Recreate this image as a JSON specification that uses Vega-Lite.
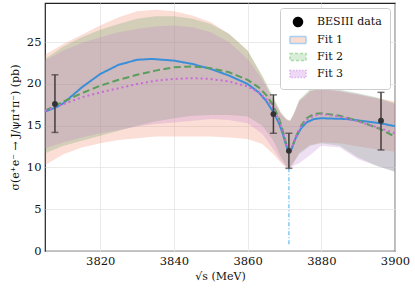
{
  "$schema": "https://vega.github.io/schema/vega-lite/v6.json",
  "width": 350,
  "height": 248,
  "autosize": {"type": "none"},
  "padding": {"left": 45, "top": 3, "right": 20, "bottom": 40},
  "config": {
    "font": "DejaVu Serif",
    "view": {"stroke": "#222222", "strokeWidth": 1.2},
    "axis": {
      "labelFont": "DejaVu Serif", "labelFontSize": 11.5, "labelColor": "#111111",
      "titleFont": "DejaVu Serif", "titleFontWeight": "normal", "titleColor": "#111111",
      "gridColor": "#e4e4e4", "gridWidth": 0.8, "domain": false,
      "ticks": false
    },
    "legend": {
      "orient": "top-right", "offset": 5, "padding": 8,
      "fillColor": "#ffffff", "strokeColor": "#cccccc", "cornerRadius": 3,
      "labelFont": "DejaVu Serif", "labelFontSize": 11, "labelColor": "#111111",
      "symbolSize": 100, "rowPadding": 3, "labelOffset": 17,
      "symbolStrokeWidth": 1.5, "symbolOpacity": 1
    }
  },
  "resolve": {"scale": {"fill": "independent", "stroke": "independent", "strokeDash": "independent", "shape": "independent"}},
  "datasets": {
    "curves": [
      {"fit": "Fit 1", "x": 3805, "y": 16.7}, {"fit": "Fit 1", "x": 3808, "y": 17.2}, {"fit": "Fit 1", "x": 3810, "y": 17.7},
      {"fit": "Fit 1", "x": 3815, "y": 19.6}, {"fit": "Fit 1", "x": 3820, "y": 21.2}, {"fit": "Fit 1", "x": 3825, "y": 22.3},
      {"fit": "Fit 1", "x": 3830, "y": 22.9}, {"fit": "Fit 1", "x": 3834, "y": 23.0}, {"fit": "Fit 1", "x": 3840, "y": 22.8},
      {"fit": "Fit 1", "x": 3845, "y": 22.4}, {"fit": "Fit 1", "x": 3850, "y": 21.8}, {"fit": "Fit 1", "x": 3855, "y": 21.0},
      {"fit": "Fit 1", "x": 3860, "y": 20.0}, {"fit": "Fit 1", "x": 3863, "y": 19.0}, {"fit": "Fit 1", "x": 3865, "y": 18.0},
      {"fit": "Fit 1", "x": 3867, "y": 16.6}, {"fit": "Fit 1", "x": 3868.5, "y": 15.3}, {"fit": "Fit 1", "x": 3869.5, "y": 14.1},
      {"fit": "Fit 1", "x": 3870.3, "y": 12.9}, {"fit": "Fit 1", "x": 3871, "y": 12.0}, {"fit": "Fit 1", "x": 3871.5, "y": 11.9},
      {"fit": "Fit 1", "x": 3872, "y": 12.3}, {"fit": "Fit 1", "x": 3873, "y": 13.5}, {"fit": "Fit 1", "x": 3874.5, "y": 14.7},
      {"fit": "Fit 1", "x": 3876, "y": 15.4}, {"fit": "Fit 1", "x": 3878, "y": 15.8}, {"fit": "Fit 1", "x": 3880, "y": 15.9},
      {"fit": "Fit 1", "x": 3887, "y": 15.8}, {"fit": "Fit 1", "x": 3896, "y": 15.3}, {"fit": "Fit 1", "x": 3900, "y": 14.95},
      {"fit": "Fit 2", "x": 3805, "y": 16.8}, {"fit": "Fit 2", "x": 3810, "y": 17.9}, {"fit": "Fit 2", "x": 3815, "y": 18.9},
      {"fit": "Fit 2", "x": 3820, "y": 19.8}, {"fit": "Fit 2", "x": 3825, "y": 20.5}, {"fit": "Fit 2", "x": 3830, "y": 21.1},
      {"fit": "Fit 2", "x": 3835, "y": 21.6}, {"fit": "Fit 2", "x": 3840, "y": 22.0}, {"fit": "Fit 2", "x": 3845, "y": 22.1},
      {"fit": "Fit 2", "x": 3850, "y": 21.9}, {"fit": "Fit 2", "x": 3855, "y": 21.4}, {"fit": "Fit 2", "x": 3860, "y": 20.5},
      {"fit": "Fit 2", "x": 3863, "y": 19.6}, {"fit": "Fit 2", "x": 3865, "y": 18.7}, {"fit": "Fit 2", "x": 3867, "y": 17.4},
      {"fit": "Fit 2", "x": 3868.5, "y": 15.9}, {"fit": "Fit 2", "x": 3869.5, "y": 14.5}, {"fit": "Fit 2", "x": 3870.3, "y": 13.1},
      {"fit": "Fit 2", "x": 3871, "y": 12.1}, {"fit": "Fit 2", "x": 3871.5, "y": 11.9}, {"fit": "Fit 2", "x": 3872, "y": 12.3},
      {"fit": "Fit 2", "x": 3873, "y": 13.6}, {"fit": "Fit 2", "x": 3874.5, "y": 15.0}, {"fit": "Fit 2", "x": 3876, "y": 15.9},
      {"fit": "Fit 2", "x": 3878, "y": 16.4}, {"fit": "Fit 2", "x": 3880, "y": 16.5}, {"fit": "Fit 2", "x": 3885, "y": 16.2},
      {"fit": "Fit 2", "x": 3890, "y": 15.6}, {"fit": "Fit 2", "x": 3896, "y": 14.6}, {"fit": "Fit 2", "x": 3900, "y": 13.7},
      {"fit": "Fit 3", "x": 3805, "y": 16.8}, {"fit": "Fit 3", "x": 3810, "y": 17.6}, {"fit": "Fit 3", "x": 3815, "y": 18.4},
      {"fit": "Fit 3", "x": 3820, "y": 19.0}, {"fit": "Fit 3", "x": 3825, "y": 19.5}, {"fit": "Fit 3", "x": 3830, "y": 20.0},
      {"fit": "Fit 3", "x": 3835, "y": 20.4}, {"fit": "Fit 3", "x": 3840, "y": 20.6}, {"fit": "Fit 3", "x": 3845, "y": 20.7},
      {"fit": "Fit 3", "x": 3850, "y": 20.6}, {"fit": "Fit 3", "x": 3855, "y": 20.3}, {"fit": "Fit 3", "x": 3860, "y": 19.7},
      {"fit": "Fit 3", "x": 3863, "y": 19.0}, {"fit": "Fit 3", "x": 3865, "y": 18.2}, {"fit": "Fit 3", "x": 3867, "y": 17.0},
      {"fit": "Fit 3", "x": 3868.5, "y": 15.7}, {"fit": "Fit 3", "x": 3869.5, "y": 14.4}, {"fit": "Fit 3", "x": 3870.3, "y": 13.0},
      {"fit": "Fit 3", "x": 3871, "y": 12.1}, {"fit": "Fit 3", "x": 3871.5, "y": 11.9}, {"fit": "Fit 3", "x": 3872, "y": 12.3},
      {"fit": "Fit 3", "x": 3873, "y": 13.5}, {"fit": "Fit 3", "x": 3874.5, "y": 14.9}, {"fit": "Fit 3", "x": 3876, "y": 15.7},
      {"fit": "Fit 3", "x": 3878, "y": 16.2}, {"fit": "Fit 3", "x": 3880, "y": 16.4}, {"fit": "Fit 3", "x": 3885, "y": 16.1},
      {"fit": "Fit 3", "x": 3890, "y": 15.5}, {"fit": "Fit 3", "x": 3896, "y": 14.7}, {"fit": "Fit 3", "x": 3900, "y": 14.1}
    ],
    "bands": [
      {"fit": "Fit 1", "x": 3805, "lo": 10.3, "hi": 23.5}, {"fit": "Fit 1", "x": 3810, "lo": 11.6, "hi": 24.8},
      {"fit": "Fit 1", "x": 3815, "lo": 12.4, "hi": 25.9}, {"fit": "Fit 1", "x": 3820, "lo": 12.9, "hi": 27.0},
      {"fit": "Fit 1", "x": 3825, "lo": 13.3, "hi": 28.0}, {"fit": "Fit 1", "x": 3830, "lo": 13.5, "hi": 28.7},
      {"fit": "Fit 1", "x": 3835, "lo": 13.7, "hi": 28.9}, {"fit": "Fit 1", "x": 3840, "lo": 13.7, "hi": 28.7},
      {"fit": "Fit 1", "x": 3845, "lo": 13.7, "hi": 28.2}, {"fit": "Fit 1", "x": 3850, "lo": 13.7, "hi": 27.4},
      {"fit": "Fit 1", "x": 3855, "lo": 13.6, "hi": 26.0}, {"fit": "Fit 1", "x": 3860, "lo": 13.4, "hi": 24.0},
      {"fit": "Fit 1", "x": 3864, "lo": 12.8, "hi": 20.8}, {"fit": "Fit 1", "x": 3867, "lo": 11.6, "hi": 18.2},
      {"fit": "Fit 1", "x": 3869, "lo": 10.6, "hi": 16.6}, {"fit": "Fit 1", "x": 3870.5, "lo": 10.0, "hi": 15.8},
      {"fit": "Fit 1", "x": 3871.5, "lo": 9.9, "hi": 15.6}, {"fit": "Fit 1", "x": 3872.5, "lo": 10.6, "hi": 16.4},
      {"fit": "Fit 1", "x": 3874, "lo": 11.8, "hi": 18.0}, {"fit": "Fit 1", "x": 3877, "lo": 12.7, "hi": 19.2},
      {"fit": "Fit 1", "x": 3880, "lo": 13.0, "hi": 19.4}, {"fit": "Fit 1", "x": 3885, "lo": 12.9, "hi": 19.1},
      {"fit": "Fit 1", "x": 3890, "lo": 12.5, "hi": 18.7}, {"fit": "Fit 1", "x": 3895, "lo": 12.2, "hi": 18.3},
      {"fit": "Fit 1", "x": 3900, "lo": 11.9, "hi": 17.9},
      {"fit": "Fit 2", "x": 3805, "lo": 11.7, "hi": 23.0}, {"fit": "Fit 2", "x": 3810, "lo": 12.6, "hi": 24.5},
      {"fit": "Fit 2", "x": 3815, "lo": 13.2, "hi": 25.6}, {"fit": "Fit 2", "x": 3820, "lo": 13.8, "hi": 26.5},
      {"fit": "Fit 2", "x": 3825, "lo": 14.4, "hi": 27.2}, {"fit": "Fit 2", "x": 3830, "lo": 15.0, "hi": 27.8},
      {"fit": "Fit 2", "x": 3835, "lo": 15.5, "hi": 28.1}, {"fit": "Fit 2", "x": 3840, "lo": 15.9, "hi": 28.1},
      {"fit": "Fit 2", "x": 3845, "lo": 16.2, "hi": 27.8}, {"fit": "Fit 2", "x": 3850, "lo": 16.3, "hi": 27.2},
      {"fit": "Fit 2", "x": 3855, "lo": 16.3, "hi": 26.0}, {"fit": "Fit 2", "x": 3860, "lo": 16.1, "hi": 24.0},
      {"fit": "Fit 2", "x": 3864, "lo": 15.0, "hi": 21.0}, {"fit": "Fit 2", "x": 3867, "lo": 13.2, "hi": 18.4},
      {"fit": "Fit 2", "x": 3869, "lo": 11.3, "hi": 16.6}, {"fit": "Fit 2", "x": 3870.5, "lo": 10.2, "hi": 15.8},
      {"fit": "Fit 2", "x": 3871.5, "lo": 10.0, "hi": 15.6}, {"fit": "Fit 2", "x": 3872.5, "lo": 10.6, "hi": 16.4},
      {"fit": "Fit 2", "x": 3874, "lo": 11.6, "hi": 18.1}, {"fit": "Fit 2", "x": 3877, "lo": 12.6, "hi": 19.4},
      {"fit": "Fit 2", "x": 3880, "lo": 12.9, "hi": 19.6}, {"fit": "Fit 2", "x": 3885, "lo": 12.6, "hi": 19.3},
      {"fit": "Fit 2", "x": 3890, "lo": 11.2, "hi": 18.9}, {"fit": "Fit 2", "x": 3895, "lo": 10.2, "hi": 18.4},
      {"fit": "Fit 2", "x": 3900, "lo": 9.5, "hi": 17.7},
      {"fit": "Fit 3", "x": 3805, "lo": 12.3, "hi": 22.8}, {"fit": "Fit 3", "x": 3810, "lo": 13.0, "hi": 24.0},
      {"fit": "Fit 3", "x": 3815, "lo": 13.6, "hi": 24.9}, {"fit": "Fit 3", "x": 3820, "lo": 14.1, "hi": 25.6},
      {"fit": "Fit 3", "x": 3825, "lo": 14.5, "hi": 26.2}, {"fit": "Fit 3", "x": 3830, "lo": 14.9, "hi": 26.6},
      {"fit": "Fit 3", "x": 3835, "lo": 15.2, "hi": 26.9}, {"fit": "Fit 3", "x": 3840, "lo": 15.4, "hi": 27.0},
      {"fit": "Fit 3", "x": 3845, "lo": 15.6, "hi": 26.8}, {"fit": "Fit 3", "x": 3850, "lo": 15.8, "hi": 26.2},
      {"fit": "Fit 3", "x": 3855, "lo": 15.7, "hi": 25.0}, {"fit": "Fit 3", "x": 3860, "lo": 15.3, "hi": 23.0},
      {"fit": "Fit 3", "x": 3864, "lo": 14.0, "hi": 20.5}, {"fit": "Fit 3", "x": 3867, "lo": 12.2, "hi": 18.0},
      {"fit": "Fit 3", "x": 3869, "lo": 10.8, "hi": 16.4}, {"fit": "Fit 3", "x": 3870.5, "lo": 10.0, "hi": 15.7},
      {"fit": "Fit 3", "x": 3871.5, "lo": 9.9, "hi": 15.5}, {"fit": "Fit 3", "x": 3872.5, "lo": 10.2, "hi": 16.3},
      {"fit": "Fit 3", "x": 3874, "lo": 10.5, "hi": 17.9}, {"fit": "Fit 3", "x": 3877, "lo": 11.5, "hi": 19.1},
      {"fit": "Fit 3", "x": 3880, "lo": 12.6, "hi": 19.5}, {"fit": "Fit 3", "x": 3885, "lo": 12.4, "hi": 19.2},
      {"fit": "Fit 3", "x": 3890, "lo": 11.0, "hi": 18.8}, {"fit": "Fit 3", "x": 3895, "lo": 10.2, "hi": 18.3},
      {"fit": "Fit 3", "x": 3900, "lo": 9.5, "hi": 17.6}
    ],
    "besiii": [
      {"x": 3807.7, "y": 17.6, "lo": 14.2, "hi": 21.1},
      {"x": 3867.0, "y": 16.4, "lo": 14.1, "hi": 18.7},
      {"x": 3871.2, "y": 12.0, "lo": 9.9, "hi": 14.1},
      {"x": 3896.2, "y": 15.6, "lo": 12.1, "hi": 19.0}
    ],
    "cusp": [{"x": 3871.2, "y": 0.8, "y2": 11.6}],
    "legendRows": [
      {"label": "BESIII data", "x": 3700, "y": -10},
      {"label": "Fit 1", "x": 3700, "y": -10},
      {"label": "Fit 2", "x": 3700, "y": -10},
      {"label": "Fit 3", "x": 3700, "y": -10}
    ]
  },
  "layer": [
    {
      "data": {"name": "bands"},
      "mark": {"type": "area", "strokeWidth": 0},
      "encoding": {
        "x": {"field": "x", "type": "quantitative", "title": "√s (MeV)", "scale": {"domain": [3805, 3900], "nice": false, "zero": false},
              "axis": {"values": [3820, 3840, 3860, 3880, 3900], "format": "d", "labelPadding": 4, "titleFontSize": 11, "titlePadding": 4, "labelFlush": false}},
        "y": {"field": "lo", "type": "quantitative", "title": "σ(e⁺e⁻ → J/ψπ⁺π⁻) (pb)", "scale": {"domain": [0, 29.7], "nice": false, "zero": true},
              "axis": {"values": [0, 5, 10, 15, 20, 25], "labelPadding": 4, "titleFontSize": 11, "titlePadding": 6}},
        "y2": {"field": "hi"},
        "fillOpacity": {"field": "fit", "type": "nominal", "scale": {"domain": ["Fit 1", "Fit 2", "Fit 3"], "range": [0.25, 0.25, 0.22]}, "legend": null},
        "fill": {"field": "fit", "type": "nominal", "scale": {"domain": ["Fit 1", "Fit 2", "Fit 3"], "range": ["#f07a5a", "#5aa05a", "#c080d0"]}, "legend": null}
      }
    },
    {
      "data": {"name": "curves"},
      "mark": {"type": "line", "strokeWidth": 2},
      "encoding": {
        "x": {"field": "x", "type": "quantitative", "title": "√s (MeV)"},
        "y": {"field": "y", "type": "quantitative", "title": "σ(e⁺e⁻ → J/ψπ⁺π⁻) (pb)"},
        "stroke": {"field": "fit", "type": "nominal", "scale": {"domain": ["Fit 1", "Fit 2", "Fit 3"], "range": ["#3a8fd8", "#5a9e5e", "#c96ad8"]}, "legend": null},
        "strokeDash": {"field": "fit", "type": "nominal", "scale": {"domain": ["Fit 1", "Fit 2", "Fit 3"], "range": [[1, 0], [7, 3.5], [2, 3]]}, "legend": null}
      }
    },
    {
      "data": {"name": "cusp"},
      "mark": {"type": "rule", "color": "#7cc6f2", "strokeWidth": 1.4, "strokeDash": [4, 2, 1, 2]},
      "encoding": {
        "x": {"field": "x", "type": "quantitative", "title": "√s (MeV)"},
        "y": {"field": "y", "type": "quantitative", "title": "σ(e⁺e⁻ → J/ψπ⁺π⁻) (pb)"},
        "y2": {"field": "y2"}
      }
    },
    {
      "data": {"name": "besiii"},
      "mark": {"type": "errorbar", "color": "#433a3a", "thickness": 1.5, "ticks": {"size": 7, "thickness": 1.5}},
      "encoding": {
        "x": {"field": "x", "type": "quantitative", "title": "√s (MeV)"},
        "y": {"field": "lo", "type": "quantitative", "title": "σ(e⁺e⁻ → J/ψπ⁺π⁻) (pb)"},
        "y2": {"field": "hi"}
      }
    },
    {
      "data": {"name": "besiii"},
      "mark": {"type": "point", "filled": true, "color": "#333333", "size": 34, "opacity": 1},
      "encoding": {
        "x": {"field": "x", "type": "quantitative", "title": "√s (MeV)"},
        "y": {"field": "y", "type": "quantitative", "title": "σ(e⁺e⁻ → J/ψπ⁺π⁻) (pb)"}
      }
    },
    {
      "data": {"name": "legendRows"},
      "mark": {"type": "point", "filled": true, "clip": true, "strokeWidth": 1.5, "opacity": 1},
      "encoding": {
        "x": {"field": "x", "type": "quantitative", "title": "√s (MeV)"},
        "y": {"field": "y", "type": "quantitative", "title": "σ(e⁺e⁻ → J/ψπ⁺π⁻) (pb)"},
        "fill": {"field": "label", "type": "nominal", "title": null,
                 "scale": {"domain": ["BESIII data", "Fit 1", "Fit 2", "Fit 3"], "range": ["#000000", "#fbdcd0", "#d8eed8", "#eed8f6"]}},
        "stroke": {"field": "label", "type": "nominal", "title": null,
                   "scale": {"domain": ["BESIII data", "Fit 1", "Fit 2", "Fit 3"], "range": ["#000000", "#a6d0f2", "#a8dca8", "#dcb4f0"]}},
        "strokeDash": {"field": "label", "type": "nominal", "title": null,
                       "scale": {"domain": ["BESIII data", "Fit 1", "Fit 2", "Fit 3"], "range": [[1, 0], [1, 0], [3, 2], [1.5, 1.5]]}},
        "shape": {"field": "label", "type": "nominal", "title": null,
                  "scale": {"domain": ["BESIII data", "Fit 1", "Fit 2", "Fit 3"],
                            "range": ["M-0.1,0A0.9,0.9 0 1,0 1.7,0A0.9,0.9 0 1,0 -0.1,0Z", "M-0.8,-0.7L2.4,-0.7L2.4,0.7L-0.8,0.7Z", "M-0.8,-0.7L2.4,-0.7L2.4,0.7L-0.8,0.7Z", "M-0.8,-0.7L2.4,-0.7L2.4,0.7L-0.8,0.7Z"]}}
      }
    }
  ]
}
